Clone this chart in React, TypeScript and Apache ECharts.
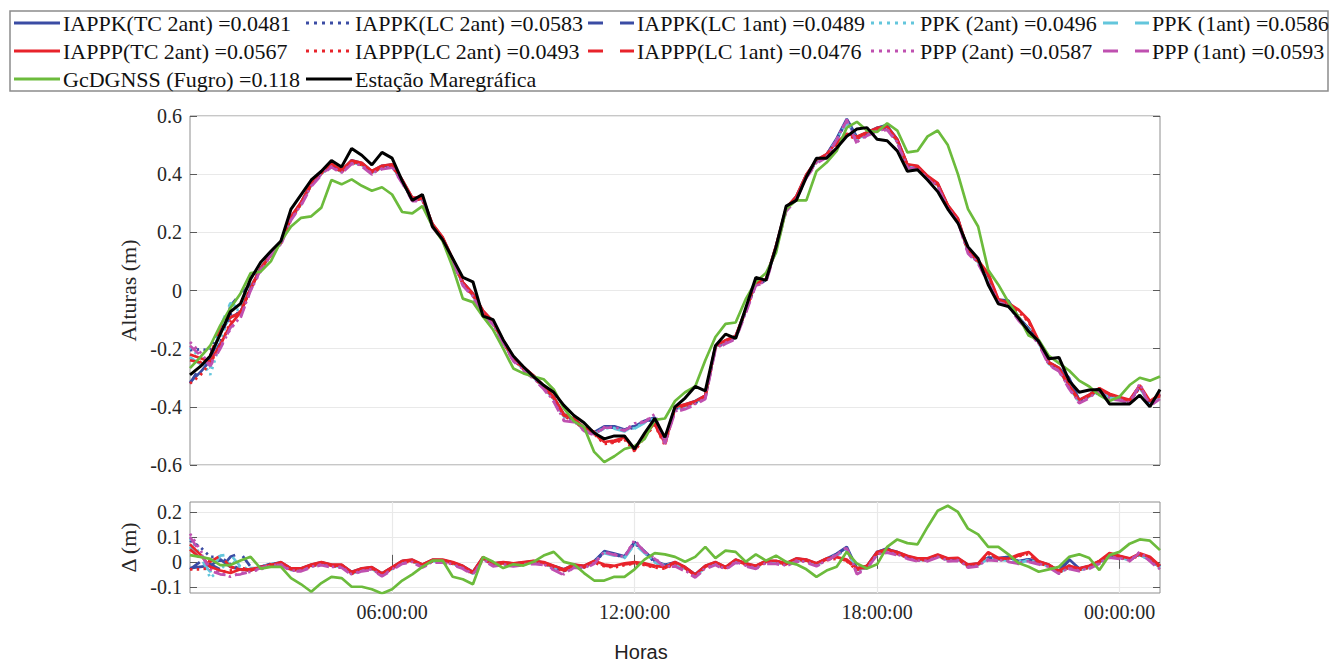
import React, { useEffect, useRef } from "react";
import * as echarts from "echarts";

// ---------- time grid (hours; 01:00 -> 01:00 next day, 15-min samples) ----------
const START_HOUR = 1;
const STEP_HOURS = 0.25;
const N_SAMPLES = 97;

// x tick positions (hours) and their labels
const xTickHours = [6, 12, 18, 24];
const xTickLabels = ["06:00:00", "12:00:00", "18:00:00", "00:00:00"];
const yBottomTicks = [-0.1, 0, 0.1, 0.2];

// ---------- Estação Maregráfica (tide gauge), m ----------
const gauge = [
  -0.290, -0.262, -0.225, -0.150, -0.073, -0.045, 0.040, 0.097, 0.135, 0.170,
  0.280, 0.330, 0.380, 0.410, 0.447, 0.425, 0.488, 0.465, 0.432, 0.475,
  0.455, 0.377, 0.310, 0.330, 0.220, 0.175, 0.110, 0.045, 0.030, -0.088,
  -0.100, -0.170, -0.225, -0.262, -0.296, -0.326, -0.350, -0.395, -0.430, -0.455,
  -0.490, -0.510, -0.500, -0.500, -0.545, -0.490, -0.440, -0.505, -0.400, -0.370,
  -0.330, -0.345, -0.190, -0.150, -0.165, -0.060, 0.045, 0.035, 0.150, 0.290,
  0.310, 0.390, 0.455, 0.455, 0.490, 0.530, 0.555, 0.560, 0.520, 0.515,
  0.480, 0.410, 0.415, 0.380, 0.340, 0.280, 0.232, 0.150, 0.110, 0.020,
  -0.046, -0.055, -0.095, -0.140, -0.175, -0.235, -0.230, -0.310, -0.350, -0.342,
  -0.340, -0.390, -0.390, -0.390, -0.360, -0.400, -0.340,
];

// ---------- GcDGNSS (Fugro) heights, m ----------
const greenTop = [
  -0.267, -0.230, -0.190, -0.120, -0.060, -0.010, 0.060, 0.065, 0.100, 0.170,
  0.220, 0.250, 0.255, 0.285, 0.380, 0.365, 0.382, 0.360, 0.343, 0.355,
  0.330, 0.270, 0.265, 0.290, 0.220, 0.170, 0.080, -0.028, -0.040, -0.090,
  -0.135, -0.200, -0.268, -0.285, -0.296, -0.305, -0.340, -0.405, -0.450, -0.470,
  -0.555, -0.590, -0.570, -0.545, -0.535, -0.510, -0.445, -0.440, -0.380, -0.350,
  -0.330, -0.240, -0.160, -0.115, -0.110, -0.030, 0.030, 0.060, 0.130, 0.280,
  0.310, 0.310, 0.410, 0.440, 0.480, 0.560, 0.580, 0.550, 0.545, 0.575,
  0.550, 0.475, 0.480, 0.530, 0.550, 0.500, 0.400, 0.280, 0.220, 0.070,
  0.020, -0.040, -0.090, -0.155, -0.170, -0.225, -0.250, -0.275, -0.310, -0.330,
  -0.360, -0.380, -0.365, -0.325, -0.300, -0.310, -0.296,
];

// ---------- differences (Δ) with respect to the tide gauge, m ----------
const greenDelta = [
  0.027, 0.020, 0.012, -0.013, -0.013, 0.005, 0.020, -0.027, -0.020, -0.020,
  -0.065, -0.090, -0.120, -0.085, -0.060, -0.065, -0.100, -0.100, -0.110, -0.127,
  -0.110, -0.075, -0.050, -0.020, 0.005, 0.005, -0.060, -0.070, -0.090, 0.020,
  0.000, -0.025, -0.010, -0.015, 0.000, 0.025, 0.040, 0.000, -0.010, -0.045,
  -0.075, -0.075, -0.060, -0.060, -0.030, 0.010, 0.035, 0.030, 0.020, 0.000,
  0.020, 0.060, 0.015, 0.045, 0.040, 0.000, 0.030, 0.005, 0.025, 0.000,
  -0.010, -0.030, -0.060, -0.035, -0.020, 0.040, -0.007, -0.027, -0.010, 0.060,
  0.090, 0.075, 0.070, 0.140, 0.205, 0.225, 0.200, 0.133, 0.110, 0.060,
  0.060, 0.030, -0.005, -0.020, -0.040, -0.030, -0.020, 0.020, 0.030, 0.015,
  -0.033, 0.027, 0.040, 0.073, 0.090, 0.085, 0.047,
];

const dIappkTc2 = [
  -0.025, -0.020, -0.015, 0.010, -0.020, -0.030, -0.035, -0.020, -0.010, -0.002,
  -0.027, -0.028, -0.012, -0.002, -0.012, -0.013, -0.040, -0.027, -0.022, -0.046,
  -0.022, 0.003, 0.008, -0.012, 0.008, 0.007, -0.003, -0.017, -0.040, 0.017,
  -0.007, -0.002, -0.007, -0.003, 0.003, -0.003, -0.017, -0.030, -0.012, -0.017,
  0.003, 0.043, 0.033, 0.022, 0.078, 0.042, 0.003, -0.012, -0.002, -0.022,
  -0.050, -0.017, -0.002, -0.022, 0.008, -0.007, -0.017, 0.003, 0.003, -0.007,
  0.013, 0.008, -0.007, 0.013, 0.033, 0.060, -0.027, -0.017, 0.040, 0.050,
  0.040, 0.022, 0.012, 0.012, 0.027, 0.012, 0.014, -0.012, -0.007, 0.017,
  0.015, 0.020, 0.003, 0.010, 0.001, -0.012, -0.036, 0.010, -0.027, -0.017,
  0.003, 0.027, 0.022, 0.012, 0.032, 0.012, -0.017,
];
const dIappkLc2 = [
  0.085, 0.060, 0.020, 0.020, -0.010, -0.030, -0.030, -0.025, -0.010, -0.007,
  -0.032, -0.031, -0.017, -0.008, -0.017, -0.016, -0.047, -0.032, -0.027, -0.052,
  -0.027, -0.002, 0.003, -0.017, 0.003, 0.003, -0.007, -0.022, -0.047, 0.013,
  -0.012, -0.007, -0.012, -0.007, -0.002, -0.007, -0.022, -0.037, -0.017, -0.022,
  -0.002, 0.038, 0.028, 0.018, 0.075, 0.038, -0.002, -0.017, -0.007, -0.027,
  -0.057, -0.022, -0.007, -0.027, 0.003, -0.012, -0.022, -0.002, -0.002, -0.012,
  0.008, 0.003, -0.012, 0.008, 0.028, 0.052, -0.032, -0.022, 0.033, 0.047,
  0.033, 0.018, 0.008, 0.008, 0.023, 0.008, 0.010, -0.017, -0.012, 0.013,
  0.010, 0.006, -0.002, 0.006, -0.004, -0.017, -0.042, -0.015, -0.032, -0.022,
  -0.002, 0.023, 0.018, 0.008, 0.028, 0.008, -0.022,
];
const dIappkLc1 = [
  -0.030, 0.000, -0.010, -0.030, 0.020, 0.035, -0.020, -0.020, -0.008, -0.003,
  -0.028, -0.027, -0.013, -0.003, -0.013, -0.012, -0.043, -0.028, -0.023, -0.048,
  -0.023, 0.002, 0.007, -0.013, 0.007, 0.006, -0.003, -0.018, -0.043, 0.016,
  -0.008, -0.003, -0.008, -0.003, 0.002, -0.003, -0.018, -0.033, -0.013, -0.018,
  0.002, 0.040, 0.030, 0.020, 0.080, 0.040, 0.000, -0.014, -0.003, -0.023,
  -0.053, -0.018, -0.003, -0.023, 0.007, -0.008, -0.018, 0.002, 0.002, -0.008,
  0.012, 0.007, -0.008, 0.012, 0.030, 0.057, -0.028, -0.018, 0.038, 0.055,
  0.037, 0.020, 0.010, 0.010, 0.025, 0.010, 0.012, -0.013, -0.008, 0.016,
  0.013, 0.018, 0.002, 0.009, 0.000, -0.013, -0.038, 0.005, -0.028, -0.018,
  0.002, 0.025, 0.020, 0.010, 0.030, 0.010, -0.018,
];
const dPpk2 = [
  0.095, 0.030, -0.065, -0.030, 0.005, -0.020, -0.030, -0.020, -0.010, -0.004,
  -0.029, -0.029, -0.014, -0.004, -0.014, -0.014, -0.044, -0.029, -0.024, -0.049,
  -0.024, 0.001, 0.006, -0.014, 0.006, 0.006, -0.004, -0.019, -0.044, 0.016,
  -0.009, -0.004, -0.009, -0.004, 0.001, -0.004, -0.019, -0.034, -0.014, -0.019,
  0.001, 0.037, 0.027, 0.018, 0.072, 0.037, 0.001, -0.014, -0.004, -0.024,
  -0.054, -0.019, -0.004, -0.024, 0.006, -0.009, -0.019, 0.001, 0.001, -0.009,
  0.011, 0.006, -0.009, 0.011, 0.028, 0.050, -0.035, -0.025, 0.034, 0.044,
  0.034, 0.019, 0.009, 0.009, 0.024, 0.009, 0.011, -0.014, -0.009, 0.014,
  0.011, 0.007, 0.001, 0.007, -0.001, -0.014, -0.039, -0.019, -0.029, -0.019,
  0.001, 0.024, 0.019, 0.009, 0.029, 0.009, -0.019,
];
const dPpk1 = [
  0.060, 0.010, -0.040, 0.025, 0.030, -0.020, -0.025, -0.025, -0.012, -0.008,
  -0.033, -0.033, -0.018, -0.008, -0.018, -0.018, -0.048, -0.033, -0.028, -0.053,
  -0.028, -0.003, 0.002, -0.018, 0.002, 0.002, -0.008, -0.023, -0.048, 0.012,
  -0.013, -0.008, -0.013, -0.008, -0.003, -0.008, -0.023, -0.038, -0.018, -0.023,
  -0.003, 0.035, 0.025, 0.015, 0.070, 0.035, -0.003, -0.018, -0.008, -0.028,
  -0.058, -0.023, -0.008, -0.028, 0.002, -0.013, -0.023, -0.003, -0.003, -0.013,
  0.007, 0.002, -0.013, 0.007, 0.025, 0.048, -0.033, -0.023, 0.032, 0.042,
  0.032, 0.017, 0.007, 0.007, 0.022, 0.007, 0.009, -0.018, -0.013, 0.012,
  0.009, 0.005, -0.003, 0.005, -0.005, -0.018, -0.043, -0.023, -0.033, -0.023,
  -0.003, 0.022, 0.017, 0.007, 0.027, 0.007, -0.023,
];
const dIapppTc2 = [
  0.070, 0.030, -0.020, -0.035, -0.045, -0.030, -0.035, -0.020, -0.015, -0.001,
  -0.026, -0.026, -0.011, -0.001, -0.011, -0.011, -0.041, -0.026, -0.021, -0.046,
  -0.021, 0.004, 0.009, -0.011, 0.009, 0.009, -0.001, -0.016, -0.041, 0.019,
  -0.006, -0.001, -0.006, -0.001, 0.004, -0.001, -0.016, -0.031, -0.011, -0.016,
  0.004, -0.011, -0.016, -0.006, -0.001, -0.006, -0.016, -0.021, -0.001, -0.021,
  -0.051, -0.016, -0.001, -0.021, 0.009, -0.006, -0.016, 0.004, 0.004, -0.006,
  0.014, 0.009, -0.006, 0.014, 0.019, 0.009, -0.026, -0.016, 0.039, 0.049,
  0.039, 0.024, 0.014, 0.014, 0.029, 0.014, 0.016, -0.011, -0.006, 0.039,
  0.016, 0.012, 0.029, 0.039, 0.002, -0.011, -0.036, -0.016, -0.026, -0.016,
  0.004, 0.035, 0.024, 0.014, 0.034, 0.020, -0.016,
];
const dIapppLc2 = [
  -0.030, -0.030, -0.025, -0.040, -0.035, -0.025, -0.030, -0.025, -0.010, -0.008,
  -0.033, -0.033, -0.018, -0.008, -0.018, -0.018, -0.048, -0.033, -0.028, -0.053,
  -0.028, -0.003, 0.002, -0.018, 0.002, 0.002, -0.008, -0.023, -0.048, 0.012,
  -0.013, -0.008, -0.013, -0.008, -0.003, -0.008, -0.023, -0.038, -0.018, -0.023,
  -0.003, -0.018, -0.023, -0.013, -0.008, -0.013, -0.023, -0.028, -0.008, -0.028,
  -0.058, -0.023, -0.008, -0.028, 0.002, -0.013, -0.023, -0.003, -0.003, -0.013,
  0.007, 0.002, -0.013, 0.007, 0.012, 0.002, -0.033, -0.023, 0.032, 0.042,
  0.032, 0.017, 0.007, 0.007, 0.022, 0.007, 0.009, -0.018, -0.013, 0.032,
  0.009, 0.005, 0.022, 0.032, -0.005, -0.018, -0.043, -0.023, -0.033, -0.023,
  -0.003, 0.030, 0.017, 0.007, 0.027, 0.015, -0.023,
];
const dIapppLc1 = [
  0.050, 0.015, 0.000, 0.025, -0.020, -0.030, -0.030, -0.020, -0.012, -0.005,
  -0.030, -0.030, -0.015, -0.005, -0.015, -0.015, -0.045, -0.030, -0.025, -0.050,
  -0.025, 0.000, 0.005, -0.015, 0.005, 0.005, -0.005, -0.020, -0.045, 0.015,
  -0.010, -0.005, -0.010, -0.005, 0.000, -0.005, -0.020, -0.035, -0.015, -0.020,
  0.000, -0.015, -0.020, -0.010, -0.005, -0.010, -0.020, -0.025, -0.005, -0.025,
  -0.055, -0.020, -0.005, -0.025, 0.005, -0.010, -0.020, 0.000, 0.000, -0.010,
  0.010, 0.005, -0.010, 0.010, 0.015, 0.005, -0.030, -0.020, 0.035, 0.045,
  0.035, 0.020, 0.010, 0.010, 0.025, 0.010, 0.012, -0.015, -0.010, 0.035,
  0.012, 0.008, 0.025, 0.035, -0.002, -0.015, -0.040, -0.020, -0.030, -0.020,
  0.000, 0.033, 0.020, 0.010, 0.030, 0.018, -0.020,
];
const dPpp2 = [
  0.113, 0.050, -0.030, -0.045, -0.060, -0.045, -0.040, -0.030, -0.015, -0.010,
  -0.035, -0.035, -0.020, -0.010, -0.020, -0.020, -0.050, -0.035, -0.030, -0.055,
  -0.030, -0.005, 0.000, -0.020, 0.000, 0.000, -0.010, -0.025, -0.050, 0.010,
  -0.015, -0.010, -0.015, -0.010, -0.005, -0.010, -0.030, -0.050, -0.020, -0.025,
  -0.005, 0.040, 0.030, 0.020, 0.088, 0.040, 0.015, -0.020, -0.015, -0.035,
  -0.060, -0.025, -0.010, -0.030, 0.000, -0.015, -0.025, -0.005, -0.005, -0.015,
  0.005, 0.000, -0.015, 0.005, 0.030, 0.058, -0.045, -0.025, 0.030, 0.040,
  0.030, 0.015, 0.005, 0.005, 0.020, 0.005, 0.007, -0.020, -0.015, 0.010,
  0.007, 0.003, -0.005, 0.003, -0.007, -0.020, -0.045, -0.025, -0.035, -0.025,
  -0.005, 0.020, 0.015, 0.005, 0.040, 0.005, -0.030,
];
const dPpp1 = [
  0.100, 0.040, -0.035, -0.050, -0.055, -0.050, -0.040, -0.025, -0.012, -0.013,
  -0.038, -0.038, -0.023, -0.013, -0.023, -0.023, -0.053, -0.038, -0.033, -0.058,
  -0.033, -0.008, -0.003, -0.023, -0.003, -0.003, -0.013, -0.028, -0.053, 0.007,
  -0.018, -0.013, -0.018, -0.013, -0.008, -0.013, -0.033, -0.053, -0.023, -0.028,
  -0.008, 0.038, 0.028, 0.018, 0.085, 0.038, 0.012, -0.022, -0.018, -0.038,
  -0.063, -0.028, -0.013, -0.033, -0.003, -0.018, -0.028, -0.008, -0.008, -0.018,
  0.002, -0.003, -0.018, 0.002, 0.028, 0.055, -0.050, -0.028, 0.027, 0.037,
  0.027, 0.012, 0.002, 0.002, 0.017, 0.002, 0.004, -0.023, -0.018, 0.007,
  0.004, 0.000, -0.008, 0.000, -0.010, -0.023, -0.048, -0.028, -0.038, -0.028,
  -0.008, 0.017, 0.012, 0.002, 0.037, 0.002, -0.033,
];

// ---------- series meta ----------
type LineKind = "solid" | "dotted" | "dashed";
interface Meta { name: string; rms: string; color: string; kind: LineKind; delta: number[]; }

const BLUE = "#3b4ca4";
const RED = "#e8232b";
const CYAN = "#63c6dc";
const MAGENTA = "#bf50b0";
const GREEN = "#6cbb3c";
const BLACK = "#000000";

const gnss: Meta[] = [
  { name: "IAPPK(TC 2ant)", rms: "0.0481", color: BLUE, kind: "solid", delta: dIappkTc2 },
  { name: "IAPPK(LC 2ant)", rms: "0.0583", color: BLUE, kind: "dotted", delta: dIappkLc2 },
  { name: "IAPPK(LC 1ant)", rms: "0.0489", color: BLUE, kind: "dashed", delta: dIappkLc1 },
  { name: "PPK (2ant)", rms: "0.0496", color: CYAN, kind: "dotted", delta: dPpk2 },
  { name: "PPK (1ant)", rms: "0.0586", color: CYAN, kind: "dashed", delta: dPpk1 },
  { name: "IAPPP(TC 2ant)", rms: "0.0567", color: RED, kind: "solid", delta: dIapppTc2 },
  { name: "IAPPP(LC 2ant)", rms: "0.0493", color: RED, kind: "dotted", delta: dIapppLc2 },
  { name: "IAPPP(LC 1ant)", rms: "0.0476", color: RED, kind: "dashed", delta: dIapppLc1 },
  { name: "PPP (2ant)", rms: "0.0587", color: MAGENTA, kind: "dotted", delta: dPpp2 },
  { name: "PPP (1ant)", rms: "0.0593", color: MAGENTA, kind: "dashed", delta: dPpp1 },
];
const greenName = "GcDGNSS (Fugro)";
const greenRms = "0.118";
const gaugeName = "Estação Maregráfica";

const times = Array.from({ length: N_SAMPLES }, (_, i) => START_HOUR + i * STEP_HOURS);

const dashFor = (k: LineKind, w: number): any =>
  k === "solid" ? "solid" : k === "dotted" ? [w * 0.9, w * 1.6] : [w * 4.5, w * 3.5];

const SERIF = "'Liberation Serif', 'Times New Roman', Times, serif";
const SANS = "'Liberation Sans', Arial, Helvetica, sans-serif";
const LW = 2.7;

const GRID_TOP = { left: 190, top: 116, width: 970, height: 349 };
const GRID_BOT = { left: 190, top: 502, width: 970, height: 91 };

const fmtY = (v: number) => (Math.abs(v) < 1e-9 ? "0" : v.toFixed(1));
const fmtX = (v: number) => {
  const i = xTickHours.findIndex((h) => Math.abs(h - v) < 1e-6);
  return i >= 0 ? xTickLabels[i] : "";
};

function buildOption() {
  const series: any[] = [];
  gnss.forEach((m) => {
    series.push({
      type: "line", name: m.name, xAxisIndex: 0, yAxisIndex: 0,
      data: times.map((t, k) => [t, +(gauge[k] + m.delta[k]).toFixed(3)]),
      showSymbol: false, symbol: "none",
      lineStyle: { color: m.color, width: LW, type: dashFor(m.kind, LW) },
      silent: true, z: 2,
    });
  });
  series.push({
    type: "line", name: greenName, xAxisIndex: 0, yAxisIndex: 0,
    data: times.map((t, k) => [t, greenTop[k]]), symbol: "none",
    lineStyle: { color: GREEN, width: LW }, silent: true, z: 3,
  });
  series.push({
    type: "line", name: gaugeName, xAxisIndex: 0, yAxisIndex: 0,
    data: times.map((t, k) => [t, gauge[k]]), symbol: "none",
    lineStyle: { color: BLACK, width: 3 }, silent: true, z: 4,
  });
  gnss.forEach((m) => {
    series.push({
      type: "line", name: m.name + " Δ", xAxisIndex: 1, yAxisIndex: 2,
      data: times.map((t, k) => [t, m.delta[k]]), symbol: "none",
      lineStyle: { color: m.color, width: LW, type: dashFor(m.kind, LW) },
      silent: true, z: 2,
    });
  });
  series.push({
    type: "line", name: greenName + " Δ", xAxisIndex: 1, yAxisIndex: 2,
    data: times.map((t, k) => [t, greenDelta[k]]), symbol: "none",
    lineStyle: { color: GREEN, width: LW }, silent: true, z: 3,
  });

  // legend drawn as graphic (3 rows x 5 columns, like the original)
  const colX = [14, 306, 588, 871, 1103];
  const rowY = [23, 51, 79];
  const iconLen = 46;
  const legendItems: { label: string; color: string; kind: LineKind; r: number; c: number }[] = [];
  gnss.forEach((m, i) =>
    legendItems.push({ label: `${m.name} =${m.rms}`, color: m.color, kind: m.kind, r: i < 5 ? 0 : 1, c: i % 5 })
  );
  legendItems.push({ label: `${greenName} =${greenRms}`, color: GREEN, kind: "solid", r: 2, c: 0 });
  legendItems.push({ label: gaugeName, color: BLACK, kind: "solid", r: 2, c: 1 });

  const graphics: any[] = [
    {
      type: "rect", z: 0, silent: true,
      shape: { x: 10, y: 11, width: 1318, height: 80 },
      style: { fill: "#ffffff", stroke: "#8c8c8c", lineWidth: 1.5 },
    },
  ];
  legendItems.forEach((it) => {
    const x = colX[it.c];
    const y = rowY[it.r];
    const dash =
      it.kind === "solid" ? null : it.kind === "dotted" ? [3, 5] : [15, 17];
    graphics.push({
      type: "line", z: 1, silent: true,
      shape: { x1: x, y1: y, x2: x + iconLen, y2: y },
      style: { stroke: it.color, lineWidth: 3.2, lineDash: dash },
    });
    graphics.push({
      type: "text", z: 1, silent: true, x: x + iconLen + 3, y: y,
      style: { text: it.label, fill: "#111", fontSize: 22, fontFamily: SERIF, verticalAlign: "middle", align: "left" },
    });
  });
  graphics.push({
    type: "text", silent: true, x: 641, y: 652,
    style: { text: "Horas", fill: "#222", fontSize: 20, fontFamily: SANS, align: "center", verticalAlign: "middle" },
  });

  const tickStyle = { show: true, inside: true, length: 7, lineStyle: { color: "#5a5a5a", width: 1 } };
  const labelFont = { color: "#262626", fontSize: 20, fontFamily: SERIF };
  const gridLine = { show: true, lineStyle: { color: "#e9e9e9", width: 1.2 } };

  return {
    animation: false,
    backgroundColor: "#ffffff",
    grid: [
      { ...GRID_TOP, show: true, borderColor: "#8e8e8e", borderWidth: 1, backgroundColor: "#fff" },
      { ...GRID_BOT, show: true, borderColor: "#8e8e8e", borderWidth: 1, backgroundColor: "#fff" },
    ],
    xAxis: [
      {
        type: "value", gridIndex: 0, min: 1, max: 25,
        axisLine: { show: false }, axisTick: { show: false }, axisLabel: { show: false }, splitLine: { show: false },
      },
      {
        type: "value", gridIndex: 1, min: 1, max: 25, position: "bottom",
        axisLine: { show: false },
        axisTick: { ...tickStyle, customValues: xTickHours },
        axisLabel: { ...labelFont, margin: 9, customValues: xTickHours, formatter: fmtX },
        splitLine: gridLine,
      },
      {
        type: "value", gridIndex: 1, min: 1, max: 25, position: "top",
        axisLine: { show: false },
        axisTick: { ...tickStyle, customValues: xTickHours },
        axisLabel: { show: false }, splitLine: { show: false },
      },
    ],
    yAxis: [
      {
        type: "value", gridIndex: 0, min: -0.6, max: 0.6, interval: 0.2, position: "left",
        axisLine: { show: false }, axisTick: tickStyle,
        axisLabel: { ...labelFont, margin: 8, formatter: fmtY },
        splitLine: gridLine,
        name: "Alturas (m)", nameLocation: "middle", nameGap: 35, nameRotate: 90,
        nameTextStyle: { color: "#262626", fontSize: 22, fontFamily: SERIF },
      },
      {
        type: "value", gridIndex: 0, min: -0.6, max: 0.6, interval: 0.2, position: "right",
        axisLine: { show: false }, axisTick: tickStyle, axisLabel: { show: false }, splitLine: { show: false },
      },
      {
        type: "value", gridIndex: 1, min: -0.125, max: 0.24, position: "left",
        axisLine: { show: false },
        axisTick: { ...tickStyle, customValues: yBottomTicks },
        axisLabel: { ...labelFont, margin: 8, customValues: yBottomTicks, formatter: fmtY },
        splitLine: gridLine,
        name: "Δ (m)", nameLocation: "middle", nameGap: 35, nameRotate: 90,
        nameTextStyle: { color: "#262626", fontSize: 22, fontFamily: SERIF },
      },
      {
        type: "value", gridIndex: 1, min: -0.125, max: 0.24, position: "right",
        axisLine: { show: false },
        axisTick: { ...tickStyle, customValues: yBottomTicks },
        axisLabel: { show: false }, splitLine: { show: false },
      },
    ],
    graphic: graphics,
    series,
  };
}

export default function App() {
  const ref = useRef<HTMLDivElement>(null);
  useEffect(() => {
    if (!ref.current) return;
    const chart = echarts.init(ref.current, null, { renderer: "svg" });
    chart.setOption(buildOption() as any);
    return () => chart.dispose();
  }, []);
  return (
    <div
      ref={ref}
      style={{ position: "fixed", left: 0, top: 0, width: 1330, height: 662, background: "#fff" }}
    />
  );
}
